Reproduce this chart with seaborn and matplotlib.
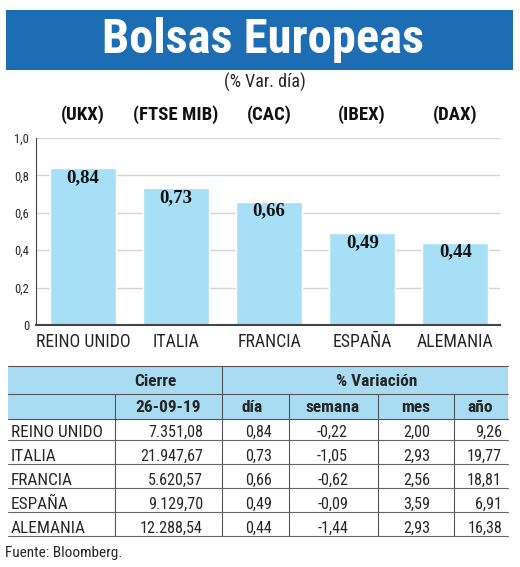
import matplotlib
matplotlib.use("Agg")
import matplotlib.pyplot as plt
import seaborn as sns
import pandas as pd
from matplotlib import font_manager
from matplotlib.patches import Rectangle

# ---- data ----
paises = ["REINO UNIDO", "ITALIA", "FRANCIA", "ESPAÑA", "ALEMANIA"]
indices = ["(UKX)", "(FTSE MIB)", "(CAC)", "(IBEX)", "(DAX)"]
var_dia = [0.84, 0.73, 0.66, 0.49, 0.44]
cierre = ["7.351,08", "21.947,67", "5.620,57", "9.129,70", "12.288,54"]
dia_txt = ["0,84", "0,73", "0,66", "0,49", "0,44"]
semana = ["-0,22", "-1,05", "-0,62", "-0,09", "-1,44"]
mes = ["2,00", "2,93", "2,56", "3,59", "2,93"]
anio = ["9,26", "19,77", "18,81", "6,91", "16,38"]
yticks = [0, 0.2, 0.4, 0.6, 0.8, 1.0]
ytick_labels = ["0", "0,2", "0,4", "0,6", "0,8", "1,0"]

sns.set_style("white")
names = {f.name for f in font_manager.fontManager.ttflist}
NARROW = None
for cand in ["Roboto Condensed", "Open Sans Condensed", "Liberation Sans Narrow"]:
    if cand in names:
        NARROW = dict(family=[cand, "DejaVu Sans"])
        break
if NARROW is None:
    NARROW = dict(family=["DejaVu Sans"], stretch="condensed")
SERIF = dict(family=["Liberation Serif", "DejaVu Serif"])
plt.rcParams["font.family"] = NARROW["family"]

W, H = 520, 567
fig = plt.figure(figsize=(W / 100, H / 100), dpi=100)
fig.patch.set_facecolor("white")

ov = fig.add_axes([0, 0, 1, 1])
ov.set_xlim(0, W)
ov.set_ylim(H, 0)
ov.axis("off")

TITLE_BLUE = "#1c6db4"
BAR_BLUE = "#a7e0f6"
HEAD_BLUE = "#a9dcf2"

# title banner
ov.add_patch(Rectangle((6, 10), 507, 60, facecolor=TITLE_BLUE, edgecolor="none"))
ov.text(263, 40, "Bolsas Europeas", color="white", fontsize=35, fontweight="bold",
        ha="center", va="center", **NARROW)
ov.text(265, 82, "(% Var. día)", fontsize=13, ha="center", va="center", **NARROW)

# bar chart
ax = fig.add_axes([36 / W, 1 - 325 / H, 464 / W, 187 / H])
df = pd.DataFrame({"pais": paises, "valor": var_dia})
sns.barplot(data=df, x="pais", y="valor", color=BAR_BLUE, saturation=1,
            width=0.71, ax=ax, zorder=2)
ax.set_xlim(-0.505, 4.48)
ax.set_ylim(0, 1.0)
ax.set_yticks(yticks)
ax.set_yticklabels(ytick_labels, fontsize=9, **NARROW)
ax.set_xticks(range(len(paises)))
ax.set_xticklabels(paises, fontsize=12.8, **NARROW)
ax.set_xlabel("")
ax.set_ylabel("")
ax.tick_params(axis="both", length=0)
ax.tick_params(axis="x", pad=6)
ax.tick_params(axis="y", pad=5)
ax.grid(axis="y", color="#d6d6d6", linewidth=1, zorder=0)
ax.set_axisbelow(True)
for s in ["top", "right"]:
    ax.spines[s].set_visible(False)
ax.spines["left"].set_color("#444444")
ax.spines["bottom"].set_color("#444444")
ax.spines["bottom"].set_linewidth(1.5)
for i, v in enumerate(var_dia):
    ax.text(i, v - 0.05, dia_txt[i], ha="center", va="center", fontsize=13.5,
            fontweight="bold", color="#111111", zorder=3, **SERIF)
    ax.text(i, 1.123, indices[i], ha="center", va="center", fontsize=13.5,
            fontweight="bold", color="#111111", clip_on=False, **NARROW)

# table
x0, x1 = 8, 508
ov.add_patch(Rectangle((x0, 366), x1 - x0, 53, facecolor=HEAD_BLUE, edgecolor="none"))
lc = "#555555"
ov.plot([x0, x1], [366, 366], color=lc, lw=0.8)
ov.plot([x0, x1], [394, 394], color=lc, lw=0.8)
ov.plot([x0, x1], [419, 419], color=lc, lw=0.8)
ov.plot([222, 222], [366, 536], color=lc, lw=0.8)
for xv in [115, 289, 378, 454]:
    ov.plot([xv, xv], [394, 536], color=lc, lw=0.8)

ov.text(155, 381, "Cierre", fontsize=12.5, fontweight="bold", ha="center", va="center", **NARROW)
ov.text(377, 381, "% Variación", fontsize=12.5, fontweight="bold", ha="center", va="center", **NARROW)
for xc, t in zip([168, 252, 333, 416, 480], ["26-09-19", "día", "semana", "mes", "año"]):
    ov.text(xc, 407, t, fontsize=12.5, fontweight="bold", ha="center", va="center", **NARROW)

row_bottoms = [440, 464, 488, 512, 536]
for r, yb in enumerate(row_bottoms):
    ov.plot([x0, x1], [yb, yb], color="#666666", lw=0.8)
    yt = yb - 3
    kw = dict(fontsize=11.6, va="baseline", **NARROW)
    ov.text(11, yt, paises[r], ha="left", fontsize=12.4, va="baseline", **NARROW)
    ov.text(203, yt, cierre[r], ha="right", **kw)
    ov.text(272, yt, dia_txt[r], ha="right", **kw)
    ov.text(348, yt, semana[r], ha="right", **kw)
    ov.text(430, yt, mes[r], ha="right", **kw)
    ov.text(502, yt, anio[r], ha="right", **kw)

ov.text(5, 553, "Fuente: Bloomberg.", fontsize=11, ha="left", va="center", **NARROW)

fig.savefig("out.png", dpi=100, facecolor="white")
